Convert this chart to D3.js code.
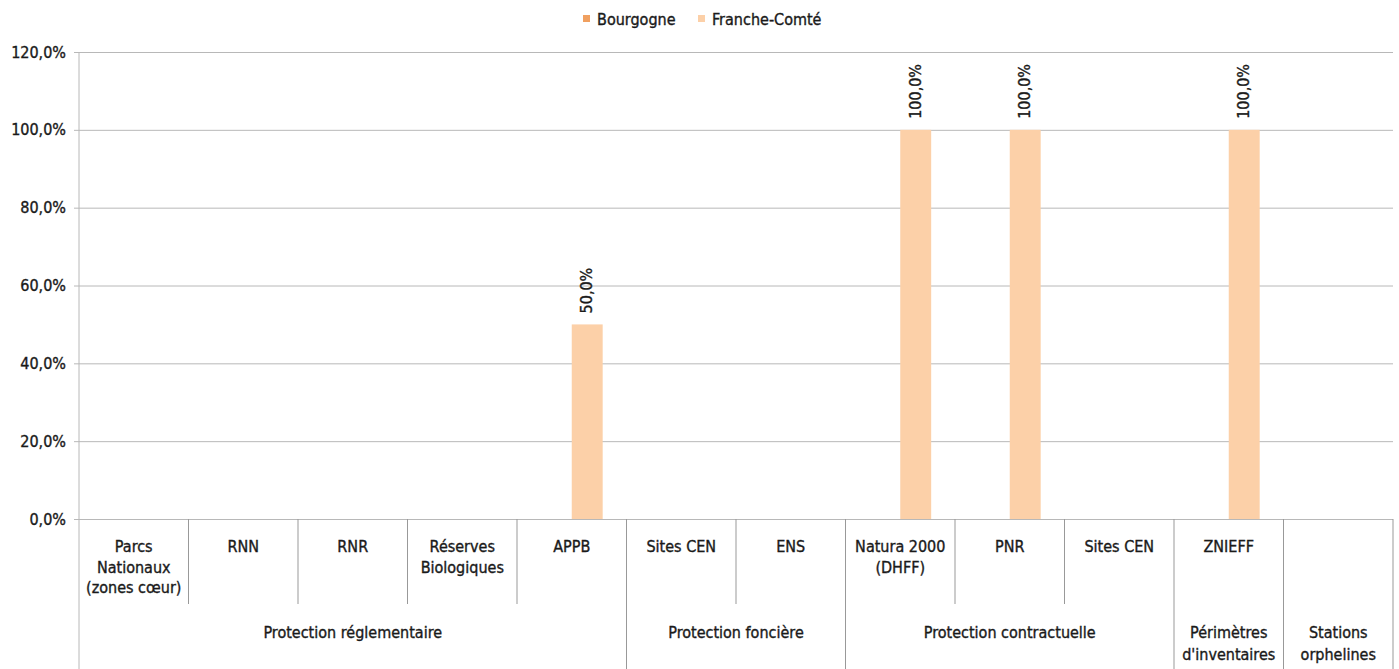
<!DOCTYPE html>
<html><head><meta charset="utf-8">
<script src="https://cdn.jsdelivr.net/npm/d3@7"></script>
<style>
body{margin:0;background:#fff;}
text{font-family:"DejaVu Sans Condensed","DejaVu Sans",sans-serif;fill:#1a1a1a;stroke:#1a1a1a;stroke-width:0.35px;}
</style></head>
<body><svg id="c" width="1399" height="669"></svg>
<script>
const categories = ["Parcs\nNationaux\n(zones cœur)","RNN","RNR","Réserves\nBiologiques","APPB","Sites CEN","ENS","Natura 2000\n(DHFF)","PNR","Sites CEN","ZNIEFF",""];
const groups = [
  {name:"Protection réglementaire", span:5},
  {name:"Protection foncière", span:2},
  {name:"Protection contractuelle", span:3},
  {name:"Périmètres\nd'inventaires", span:1},
  {name:"Stations\norphelines", span:1}
];
const seriesNames = ["Bourgogne","Franche-Comté"];
const bourgogne = [0,0,0,0,0,0,0,0,0,0,0,0];
const francheComte = [0,0,0,0,0.5,0,0,1,1,0,1,0];
const yTicks = [0,0.2,0.4,0.6,0.8,1.0,1.2];
const colors = ["#f0a060","#fcd0a8"];

const FS = 16;
const svg = d3.select("#c");
const L=79, R=1393, T=52, B=519;
const loc = d3.formatLocale({decimal:",",thousands:" ",grouping:[3],currency:["","€"],percent:"%"});
const fmt = loc.format(".1%");

const x = d3.scaleBand().domain(d3.range(categories.length)).range([L,R]).padding(0);
const bw = x.bandwidth();
const xs = d3.scaleBand().domain(seriesNames).range([0,bw]).paddingInner(0).paddingOuter(0.77);
const y = d3.scaleLinear().domain([0,1.2]).range([B,T]);

// gridlines
svg.append("g").attr("transform",`translate(${L},0)`)
  .call(d3.axisLeft(y).tickValues(yTicks).tickSize(-(R-L)).tickFormat(""))
  .call(g=>g.select(".domain").remove())
  .call(g=>g.selectAll("line").attr("stroke","#b8b8b8"));
// y axis with labels
svg.append("g").attr("transform",`translate(${L},0)`)
  .call(d3.axisLeft(y).tickValues(yTicks).tickSize(5).tickPadding(8).tickFormat(fmt))
  .call(g=>g.select(".domain").attr("stroke","#b8b8b8").attr("d",`M0,${T}V669`))
  .call(g=>g.selectAll("line").attr("stroke","#b8b8b8"))
  .call(g=>g.selectAll("text").attr("font-size",FS).attr("fill","#1a1a1a").style("font-family",'"DejaVu Sans Condensed","DejaVu Sans",sans-serif'));

// bars
const data = [bourgogne, francheComte];
data.forEach((vals,si)=>{
  const g = svg.append("g");
  g.selectAll("rect").data(vals).join("rect")
    .attr("x",(d,i)=>x(i)+xs(seriesNames[si]))
    .attr("width",xs.bandwidth())
    .attr("y",d=>y(d)).attr("height",d=>B-y(d))
    .attr("fill",colors[si]);
  g.selectAll("text").data(vals.map((v,i)=>({v,i})).filter(d=>d.v>0)).join("text")
    .attr("transform",d=>`translate(${x(d.i)+xs(seriesNames[si])+xs.bandwidth()/2+5},${y(d.v)-11}) rotate(-90)`)
    .attr("font-size",FS).attr("text-anchor","start")
    .text(d=>fmt(d.v));
});

// category separators and labels
const ends = []; let acc=0; groups.forEach(g=>{acc+=g.span; ends.push(acc);});
const cg = svg.append("g");
d3.range(1,categories.length+1).forEach(i=>{
  const xx = (i<categories.length? x(i) : R);
  const long = ends.includes(i);
  cg.append("line").attr("x1",xx).attr("x2",xx).attr("y1",B).attr("y2",long?669:604)
    .attr("stroke","#999");
});
categories.forEach((c,i)=>{
  const t = cg.append("text").attr("text-anchor","middle").attr("font-size",FS);
  c.split("\n").forEach((ln,j)=>{
    t.append("tspan").attr("x",x(i)+bw/2).attr("y",552+j*20.5).text(ln);
  });
});
let start=0;
groups.forEach(gr=>{
  const x0 = x(start), x1 = (start+gr.span<categories.length? x(start+gr.span):R);
  const t = cg.append("text").attr("text-anchor","middle").attr("font-size",FS);
  gr.name.split("\n").forEach((ln,j)=>{
    t.append("tspan").attr("x",(x0+x1)/2).attr("y",638+j*22).text(ln);
  });
  start+=gr.span;
});

// legend
const lg = svg.append("g");
const lx=[583,698];
seriesNames.forEach((n,i)=>{
  lg.append("rect").attr("x",lx[i]).attr("y",15).attr("width",7).attr("height",7).attr("fill",colors[i]);
  lg.append("text").attr("x",lx[i]+14).attr("y",25).attr("font-size",FS).text(n);
});
</script></body></html>
